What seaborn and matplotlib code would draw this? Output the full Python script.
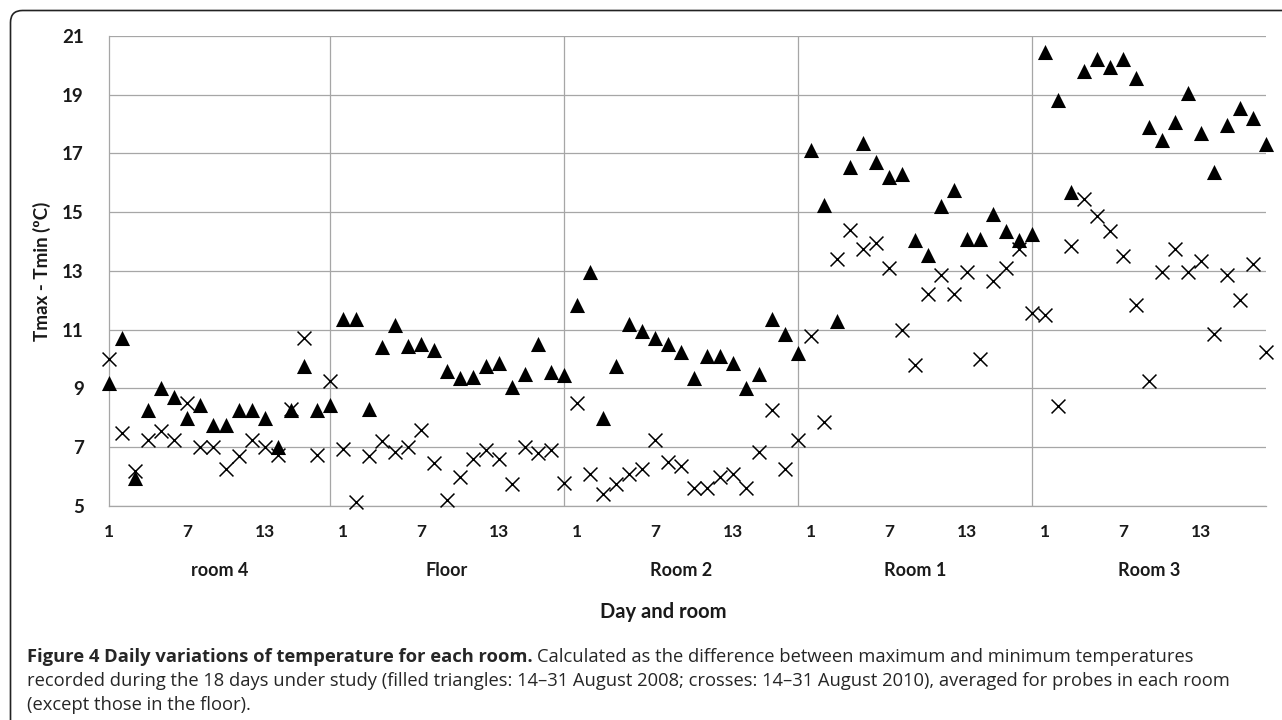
import matplotlib
matplotlib.use("Agg")
import matplotlib.pyplot as plt
import numpy as np
import pandas as pd
import seaborn as sns
from matplotlib.patches import FancyBboxPatch
from matplotlib.transforms import IdentityTransform

sns.set_style("white")
plt.rcParams['font.family'] = ['Lato', 'DejaVu Sans']

rooms = ["room 4", "Floor", "Room 2", "Room 1", "Room 3"]
day_labels = ["1", "7", "13"]
n_days = 18

# Tmax - Tmin (ºC), 14-31 August 2008 (filled triangles)
room4_2008 = [9.2, 10.7, 5.95, 8.25, 9.0, 8.7, 8.0, 8.45, 7.75, 7.75, 8.25, 8.25, 8.0, 7.0, 8.25, 9.75, 8.25, 8.45]
floor_2008 = [11.35, 11.35, 8.3, 10.4, 11.15, 10.45, 10.5, 10.3, 9.6, 9.35, 9.4, 9.75, 9.85, 9.05, 9.5, 10.5, 9.55, 9.45]
room2_2008 = [11.85, 12.95, 8.0, 9.75, 11.2, 10.95, 10.7, 10.5, 10.25, 9.35, 10.1, 10.1, 9.85, 9.0, 9.5, 11.35, 10.85, 10.2]
room1_2008 = [17.1, 15.25, 11.3, 16.55, 17.35, 16.7, 16.2, 16.3, 14.05, 13.55, 15.2, 15.75, 14.1, 14.1, 14.95, 14.35, 14.05, 14.25]
room3_2008 = [20.45, 18.8, 15.7, 19.8, 20.2, 19.95, 20.2, 19.55, 17.9, 17.45, 18.05, 19.05, 17.7, 16.35, 17.95, 18.55, 18.2, 17.3]

# Tmax - Tmin (ºC), 14-31 August 2010 (crosses)
room4_2010 = [10.0, 7.5, 6.2, 7.25, 7.55, 7.25, 8.5, 7.0, 7.0, 6.25, 6.7, 7.25, 7.0, 6.75, 8.3, 10.7, 6.75, 9.25]
floor_2010 = [6.95, 5.15, 6.7, 7.2, 6.85, 7.0, 7.6, 6.45, 5.2, 6.0, 6.6, 6.9, 6.6, 5.75, 7.0, 6.8, 6.9, 5.8]
room2_2010 = [8.5, 6.1, 5.4, 5.75, 6.1, 6.25, 7.25, 6.5, 6.35, 5.6, 5.6, 6.0, 6.1, 5.6, 6.85, 8.25, 6.25, 7.25]
room1_2010 = [10.8, 7.85, 13.4, 14.4, 13.75, 13.95, 13.1, 11.0, 9.8, 12.2, 12.85, 12.2, 12.95, 10.0, 12.65, 13.1, 13.75, 11.55]
room3_2010 = [11.5, 8.4, 13.85, 15.45, 14.85, 14.35, 13.5, 11.85, 9.25, 12.95, 13.75, 12.95, 13.35, 10.85, 12.85, 12.0, 13.25, 10.25]

vals_2008 = [room4_2008, floor_2008, room2_2008, room1_2008, room3_2008]
vals_2010 = [room4_2010, floor_2010, room2_2010, room1_2010, room3_2010]

rows = []
for r, room in enumerate(rooms):
    for d in range(n_days):
        pos = r * n_days + d
        rows.append({"room": room, "day": d + 1, "pos": pos, "year": "2008", "value": vals_2008[r][d]})
        rows.append({"room": room, "day": d + 1, "pos": pos, "year": "2010", "value": vals_2010[r][d]})
df = pd.DataFrame(rows)

grid_col = "#a6a6a6"
fig = plt.figure(figsize=(12.82, 7.2), dpi=100)
ax = fig.add_axes([0.085, 0.2972, 0.9025, 0.6532])

sns.scatterplot(data=df[df.year == "2008"], x="pos", y="value", marker="^", s=118,
                color="black", linewidth=0, ax=ax, clip_on=False, zorder=4)
sns.scatterplot(data=df[df.year == "2010"], x="pos", y="value", marker="x", s=100,
                color="black", linewidth=1.1, ax=ax, clip_on=False, zorder=4)

n_total = len(rooms) * n_days
ax.set_xlim(0, n_total - 1)
ax.set_ylim(5, 21)
ax.set_yticks(np.arange(5, 22, 2))
ax.set_xticks(np.arange(0, n_total, 6))
ax.set_xticklabels(day_labels * len(rooms))
ax.set_xlabel("")
ax.set_ylabel("")

ax.grid(axis="y", color=grid_col, linewidth=0.9)
ax.set_axisbelow(True)
for s in ["top", "right"]:
    ax.spines[s].set_visible(False)
for s in ["left", "bottom"]:
    ax.spines[s].set_color(grid_col)
    ax.spines[s].set_linewidth(0.9)

bounds = [0] + [(r + 1) * n_days - 1 for r in range(len(rooms))]
for b in bounds[1:-1]:
    ax.axvline(b, color=grid_col, linewidth=0.9, zorder=1)

ax.tick_params(axis="y", direction="out", length=7.2, width=0.9, color=grid_col,
               pad=11, labelsize=13.5)
ax.tick_params(axis="x", direction="out", length=5, width=0.9, color=grid_col,
               pad=8, labelsize=12.5)
for lab in ax.get_xticklabels() + ax.get_yticklabels():
    lab.set_fontweight("bold")
    lab.set_color("#1a1a1a")

for r, room in enumerate(rooms):
    xm = (bounds[r] + bounds[r + 1]) / 2
    ax.text(xm, -0.138, room, transform=ax.get_xaxis_transform(), ha="center",
            va="center", fontsize=13, fontweight="bold", color="#1a1a1a")

fig.text(663 / 1282, 1 - 612 / 720, "Day and room", ha="center", va="center",
         fontsize=14.5, fontweight="bold", color="#1a1a1a")
fig.text(42 / 1282, 1 - 271 / 720, "Tmax - Tmin (ºC)", ha="center", va="center",
         rotation=90, fontsize=13.5, fontweight="bold", color="#1a1a1a")

# caption
cap_font = ["Open Sans", "DejaVu Sans"]
cap_size = 13.2
x0 = 27 / 1282
t_bold = fig.text(x0, 1 - 657 / 720, "Figure 4 Daily variations of temperature for each room.",
                  ha="left", va="center", fontsize=cap_size, fontweight="bold", family=cap_font)
fig.canvas.draw()
bb = t_bold.get_window_extent(renderer=fig.canvas.get_renderer())
fig.text(bb.x1 / 1282 + 4 / 1282, 1 - 657 / 720,
         "Calculated as the difference between maximum and minimum temperatures",
         ha="left", va="center", fontsize=cap_size, family=cap_font)
fig.text(x0, 1 - 681 / 720,
         "recorded during the 18 days under study (filled triangles: 14\u201331 August 2008; "
         "crosses: 14\u201331 August 2010), averaged for probes in each room",
         ha="left", va="center", fontsize=cap_size, family=cap_font)
fig.text(x0, 1 - 705 / 720, "(except those in the floor).",
         ha="left", va="center", fontsize=cap_size, family=cap_font)

frame = FancyBboxPatch((10.5, -100), 1500, 709.5 + 100, boxstyle="round,pad=0,rounding_size=12",
                       transform=IdentityTransform(), fill=False, edgecolor="#222222",
                       linewidth=1.2)
fig.add_artist(frame)

fig.savefig("out.png", dpi=100)
